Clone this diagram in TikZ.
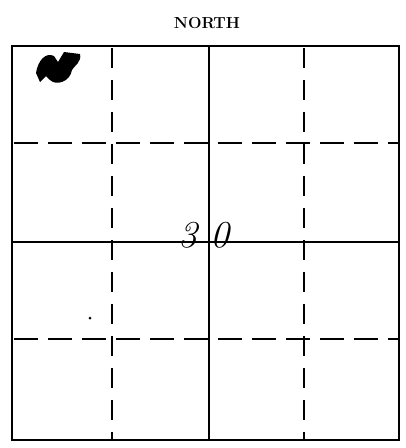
\documentclass[tikz,border=0pt]{standalone}
\usepackage{tikz}
\usetikzlibrary{positioning}
\tikzset{
  mapframe/.style={draw=black, line width=2.4pt},
  mapsolid/.style={draw=black, line width=1.1pt},
  mapdash/.style={draw=black, line width=1.4pt, dash pattern=on 24pt off 10pt},
  mapvdash/.style={draw=black, line width=1.4pt, dash pattern=on 20pt off 12pt},
  maplabel/.style={font=\bfseries\fontsize{16}{16}\selectfont, inner sep=0pt},
  mapink/.style={font=\itshape\fontsize{38}{38}\selectfont, inner sep=0pt}
}
\begin{document}
\begin{tikzpicture}[x=1pt, y=-1pt]
  \useasboundingbox (0,0) rectangle (406,448);
  % frame and grid
  \coordinate (nw) at (12,46);
  \coordinate (se) at (399,440);
  \draw[mapframe] (nw) rectangle (se);
  \draw[mapsolid] (209,46) -- (209,440);
  \draw[mapsolid] (12,242) -- (399,242);
  \draw[mapvdash] (112,48) -- (112,440);
  \draw[mapvdash] (304,48) -- (304,440);
  \draw[mapdash] (14,143) -- (399,143);
  \draw[mapdash] (14,339) -- (399,339);
  % labels
  \node[maplabel] (north) at (207,23) {NORTH};
  \node[mapink] (acre) at (204,235) {3\hspace{14pt}0};
  % pencil marks
  \fill (36,73) .. controls (38,60) and (46,52) .. (54,56)
    -- (58,62) -- (64,52) -- (80,54) .. controls (82,62) and (74,66) .. (72,70)
    .. controls (70,82) and (56,86) .. (50,80) -- (46,76) -- (40,82) -- cycle;
  \fill (90,318) circle (1.5pt);
\end{tikzpicture}
\end{document}
